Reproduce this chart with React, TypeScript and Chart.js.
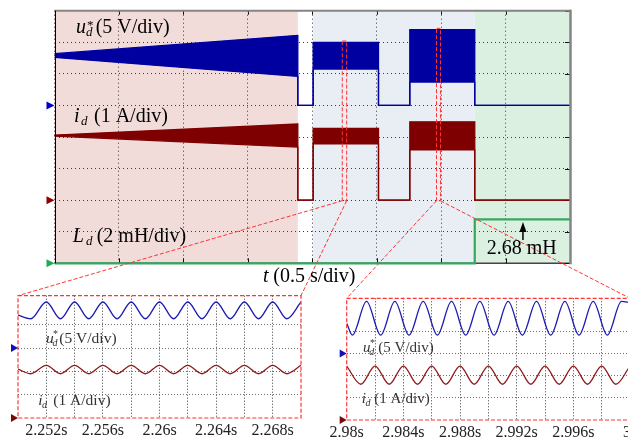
import React, { useEffect, useRef } from 'react';
import { Chart, registerables } from 'chart.js';

Chart.register(...registerables);

const FONT = '"Liberation Serif", "Times New Roman", Times, serif';

// ---------------- Main scope (0.5 s/div) ----------------
const mainTimes = [0, 1.888, 1.888, 2.007, 2.007, 2.514, 2.514, 2.757, 2.757, 3.261, 3.261, 4.0]; // s
const udUpper = [8.2, 11.1, 0, 0, 10.0, 10.0, 0, 0, 12.0, 12.0, 0, 0]; // V
const udLower = [7.6, 4.6, 0, 0, 5.75, 5.75, 0, 0, 3.7, 3.7, 0, 0]; // V
const idUpper = [2.06, 2.41, 0, 0, 2.27, 2.27, 0, 0, 2.48, 2.48, 0, 0]; // A
const idLower = [2.03, 1.68, 0, 0, 1.78, 1.78, 0, 0, 1.59, 1.59, 0, 0]; // A
const ldTimes = [0, 3.261, 3.261, 4.0]; // s
const ldValues = [0, 0, 2.78, 2.78]; // mH

const regionStart = [0, 2.007, 3.261];
const regionEnd = [1.888, 3.261, 4.0];
const regionColors = ['#f1dcda', '#e9edf4', '#dcf0e2'];

// zoom windows marked on the main scope (s, div)
const zoomWinStart = [2.233, 2.964];
const zoomWinEnd = [2.267, 2.995];
const zoomWinTop = [7.04, 7.44];
const zoomWinBottom = [1.98, 1.98];

// ---------------- Left inset (2.25 s - 2.27 s) ----------------
const leftTimes = [2.25, 2.2509, 2.252, 2.253, 2.254, 2.255, 2.256, 2.257, 2.258, 2.259, 2.26, 2.261, 2.262, 2.263, 2.264, 2.265, 2.266, 2.267, 2.268, 2.269, 2.27];
const leftUd = [7.1, 6.3, 9.9, 6.3, 9.9, 6.3, 9.9, 6.3, 9.9, 6.3, 9.9, 6.3, 9.9, 6.3, 9.9, 6.3, 9.9, 6.3, 9.9, 6.3, 9.9]; // V
const leftId = [2.1, 1.9, 2.26, 1.9, 2.26, 1.9, 2.26, 1.9, 2.26, 1.9, 2.26, 1.9, 2.26, 1.9, 2.26, 1.9, 2.26, 1.9, 2.26, 1.9, 2.26]; // A
const leftTickValues = [2.252, 2.256, 2.26, 2.264, 2.268];
const leftTickLabels = ['2.252s', '2.256s', '2.26s', '2.264s', '2.268s'];

// ---------------- Right inset (2.98 s - 3.0 s) ----------------
const rightUdTimes = [2.98, 2.9804, 2.9814, 2.9824, 2.9834, 2.9844, 2.9854, 2.9864, 2.9874, 2.9884, 2.9894, 2.9904, 2.9914, 2.9924, 2.9934, 2.9944, 2.9954, 2.9964, 2.9974, 2.9984, 2.9994, 3.0];
const rightUd = [6.8, 4.1, 11.7, 4.1, 11.7, 4.1, 11.7, 4.1, 11.7, 4.1, 11.7, 4.1, 11.7, 4.1, 11.7, 4.1, 11.7, 4.1, 11.7, 4.1, 11.7, 11.4]; // V
const rightIdTimes = [2.98, 2.981, 2.982, 2.983, 2.984, 2.985, 2.986, 2.987, 2.988, 2.989, 2.99, 2.991, 2.992, 2.993, 2.994, 2.995, 2.996, 2.997, 2.998, 2.999, 3.0];
const rightId = [2.43, 1.61, 2.43, 1.61, 2.43, 1.61, 2.43, 1.61, 2.43, 1.61, 2.43, 1.61, 2.43, 1.61, 2.43, 1.61, 2.43, 1.61, 2.43, 1.61, 2.43]; // A
const rightTickValues = [2.98, 2.984, 2.988, 2.992, 2.996, 3.0];
const rightTickLabels = ['2.98s', '2.984s', '2.988s', '2.992s', '2.996s', '3s'];

// ---------------- layout / style ----------------
const MAIN = { l: 54.5, t: 10.7, r: 570, b: 263.3, w: 628, h: 441 };
const LEFT_INSET = { l: 18, t: 295.7, r: 301, b: 418, w: 628, h: 441 };
const RIGHT_INSET = { l: 346.7, t: 298.3, r: 630, b: 420, w: 660, h: 441 };
const INSET_LABEL_BAND = 20;

const BLUE = '#0000a0';
const RED = '#7f0000';
const GREEN = '#35a862';
const INSET_BLUE = '#1c1cb0';
const INSET_RED = '#8e1c1c';
const DASH_RED = '#ff3434';

type Part = { t: string; x: number; size: number; italic?: boolean; dy?: number };

function drawParts(ctx: CanvasRenderingContext2D, baseline: number, parts: Part[], color: string) {
  ctx.save();
  ctx.fillStyle = color;
  ctx.textAlign = 'left';
  ctx.textBaseline = 'alphabetic';
  for (const p of parts) {
    ctx.font = `${p.italic ? 'italic ' : ''}${p.size}px ${FONT}`;
    ctx.fillText(p.t, p.x, baseline + (p.dy || 0));
  }
  ctx.restore();
}

function tri(ctx: CanvasRenderingContext2D, tipX: number, cy: number, w: number, h: number, color: string) {
  ctx.save();
  ctx.fillStyle = color;
  ctx.beginPath();
  ctx.moveTo(tipX, cy);
  ctx.lineTo(tipX - w, cy - h);
  ctx.lineTo(tipX - w, cy + h);
  ctx.closePath();
  ctx.fill();
  ctx.restore();
}

const pts = (ts: number[], vs: number[], f: (v: number) => number) => ts.map((t, i) => ({ x: t, y: f(vs[i]) }));

const udDiv = (v: number) => 5 + v / 5;
const idDiv = (a: number) => 2 + a;
const ldDiv = (l: number) => l / 2;
const insUdDiv = (v: number) => 3 + v / 5;
const insIdDiv = (a: number) => a;

const mainPlugin = {
  id: 'mainDecor',
  beforeDraw(chart: any) {
    const { ctx, chartArea: ca, scales } = chart;
    const x = scales.x;
    ctx.save();
    for (let i = 0; i < regionStart.length; i++) {
      const x0 = x.getPixelForValue(regionStart[i]);
      const x1 = x.getPixelForValue(regionEnd[i]);
      ctx.fillStyle = regionColors[i];
      ctx.fillRect(x0, ca.top, x1 - x0, ca.bottom - ca.top);
    }
    ctx.restore();
  },
  beforeDatasetsDraw(chart: any) {
    const { ctx, chartArea: ca, scales } = chart;
    const x = scales.x, y = scales.y;
    ctx.save();
    ctx.strokeStyle = '#444';
    ctx.lineWidth = 1.5;
    ctx.beginPath();
    ctx.moveTo(ca.left, ca.bottom);
    ctx.lineTo(ca.right, ca.bottom);
    ctx.stroke();
    ctx.strokeStyle = '#111';
    ctx.lineWidth = 1;
    ctx.beginPath();
    for (const t of x.ticks) {
      const px = Math.round(x.getPixelForValue(t.value)) + 0.5;
      ctx.moveTo(px, ca.top);
      ctx.lineTo(px, ca.top + 4);
      ctx.moveTo(px, ca.bottom);
      ctx.lineTo(px, ca.bottom - 5);
    }
    for (const t of y.ticks) {
      const py = Math.round(y.getPixelForValue(t.value)) + 0.5;
      ctx.moveTo(ca.right, py);
      ctx.lineTo(ca.right - 5, py);
    }
    ctx.stroke();
    ctx.restore();
  },
  afterDraw(chart: any) {
    const { ctx, chartArea: ca, scales } = chart;
    const x = scales.x, y = scales.y;
    ctx.save();
    ctx.strokeStyle = '#858585';
    ctx.lineWidth = 2;
    ctx.beginPath();
    ctx.moveTo(ca.left, ca.top);
    ctx.lineTo(ca.right + 1, ca.top);
    ctx.stroke();
    ctx.lineWidth = 2.5;
    ctx.beginPath();
    ctx.moveTo(ca.right + 0.5, ca.top - 1);
    ctx.lineTo(ca.right + 0.5, ca.bottom + 1);
    ctx.stroke();
    ctx.strokeStyle = '#000';
    ctx.lineWidth = 1;
    ctx.beginPath();
    ctx.moveTo(Math.round(ca.left) + 0.5, ca.top);
    ctx.lineTo(Math.round(ca.left) + 0.5, ca.bottom);
    ctx.stroke();

    tri(ctx, ca.left, y.getPixelForValue(udDiv(0)), 8, 4, '#0000c8');
    tri(ctx, ca.left, y.getPixelForValue(idDiv(0)), 8, 4, '#8b0000');
    tri(ctx, ca.left, y.getPixelForValue(ldDiv(0)), 8, 4, '#22aa55');

    const ax = x.getPixelForValue(3.635);
    const aBase = y.getPixelForValue(ldDiv(1.47));
    const aTip = y.getPixelForValue(ldDiv(2.62));
    ctx.strokeStyle = '#000';
    ctx.fillStyle = '#000';
    ctx.lineWidth = 1.5;
    ctx.beginPath();
    ctx.moveTo(ax, aBase);
    ctx.lineTo(ax, aTip + 6);
    ctx.stroke();
    ctx.beginPath();
    ctx.moveTo(ax, aTip);
    ctx.lineTo(ax - 3.5, aTip + 10);
    ctx.lineTo(ax + 3.5, aTip + 10);
    ctx.closePath();
    ctx.fill();

    ctx.strokeStyle = DASH_RED;
    ctx.lineWidth = 1;
    ctx.setLineDash([4, 2]);
    const corners = [
      [[LEFT_INSET.l, LEFT_INSET.t], [LEFT_INSET.r, LEFT_INSET.t]],
      [[RIGHT_INSET.l, RIGHT_INSET.t], [RIGHT_INSET.r, RIGHT_INSET.t]],
    ];
    for (let i = 0; i < zoomWinStart.length; i++) {
      const x0 = x.getPixelForValue(zoomWinStart[i]);
      const x1 = x.getPixelForValue(zoomWinEnd[i]);
      const y0 = y.getPixelForValue(zoomWinTop[i]);
      const y1 = y.getPixelForValue(zoomWinBottom[i]);
      ctx.strokeRect(x0, y0, x1 - x0, y1 - y0);
      ctx.beginPath();
      ctx.moveTo(x0, y1);
      ctx.lineTo(corners[i][0][0], corners[i][0][1]);
      ctx.moveTo(x1, y1);
      ctx.lineTo(corners[i][1][0], corners[i][1][1]);
      ctx.stroke();
    }
    ctx.setLineDash([]);
    ctx.restore();

    drawParts(ctx, 33.3, [
      { t: 'u', x: 76, size: 20, italic: true },
      { t: 'd', x: 86, size: 13, italic: true, dy: 3 },
      { t: '*', x: 87, size: 13, dy: -4 },
      { t: '(5 V/div)', x: 95.7, size: 20 },
    ], '#000');
    drawParts(ctx, 121.7, [
      { t: 'i', x: 74, size: 20, italic: true },
      { t: 'd', x: 81, size: 13, italic: true, dy: 3 },
      { t: '(1 A/div)', x: 94, size: 20 },
    ], '#000');
    drawParts(ctx, 241.7, [
      { t: 'L', x: 72.7, size: 20, italic: true },
      { t: 'd', x: 86, size: 13, italic: true, dy: 3 },
      { t: '(2 mH/div)', x: 96.7, size: 20 },
    ], '#000');
    drawParts(ctx, 282, [
      { t: 't', x: 263, size: 20, italic: true },
      { t: '(0.5 s/div)', x: 273.3, size: 20 },
    ], '#000');
    drawParts(ctx, 254, [{ t: '2.68 mH', x: 486.7, size: 20 }], '#000');
  },
};

function mainConfig(): any {
  const common = { pointRadius: 0, tension: 0, clip: 4 };
  return {
    type: 'line',
    data: {
      datasets: [
        { ...common, data: pts(mainTimes, udUpper, udDiv), borderColor: BLUE, borderWidth: 1.3, fill: false },
        { ...common, data: pts(mainTimes, udLower, udDiv), borderColor: BLUE, borderWidth: 1.3, backgroundColor: BLUE, fill: '-1' },
        { ...common, data: pts(mainTimes, idUpper, idDiv), borderColor: RED, borderWidth: 1.3, fill: false },
        { ...common, data: pts(mainTimes, idLower, idDiv), borderColor: RED, borderWidth: 1.3, backgroundColor: RED, fill: '-1' },
        { ...common, data: pts(ldTimes, ldValues, ldDiv), borderColor: GREEN, borderWidth: 2.2, fill: false, clip: false },
      ],
    },
    options: {
      responsive: false,
      animation: false,
      devicePixelRatio: 1,
      events: [],
      layout: { padding: { left: MAIN.l, top: MAIN.t, right: MAIN.w - MAIN.r, bottom: MAIN.h - MAIN.b } },
      plugins: { legend: { display: false }, tooltip: { enabled: false } },
      scales: {
        x: {
          type: 'linear', min: 0, max: 4,
          ticks: { display: false, stepSize: 0.5 },
          grid: { color: '#3a3a3a', lineWidth: 1, drawTicks: false },
          border: { display: false, dash: [1, 3] },
          afterFit: (s: any) => { s.height = 0; },
        },
        y: {
          type: 'linear', min: 0, max: 8,
          ticks: { display: false, stepSize: 1 },
          grid: { color: '#3a3a3a', lineWidth: 1, drawTicks: false },
          border: { display: false, dash: [1, 3] },
          afterFit: (s: any) => { s.width = 0; },
        },
      },
    },
    plugins: [mainPlugin],
  };
}

type InsetSpec = {
  area: typeof LEFT_INSET;
  xMin: number; xMax: number; yMax: number;
  udT: number[]; udV: number[]; idT: number[]; idV: number[];
  tickValues: number[]; tickLabels: string[];
  labelU: { baseline: number; parts: Part[] };
  labelI: { baseline: number; parts: Part[] };
};

function insetConfig(s: InsetSpec): any {
  const plugin = {
    id: 'insetDecor',
    afterDraw(chart: any) {
      const { ctx, chartArea: ca, scales } = chart;
      const y = scales.y;
      ctx.save();
      ctx.strokeStyle = DASH_RED;
      ctx.lineWidth = 1.2;
      ctx.setLineDash([4, 2]);
      ctx.strokeRect(ca.left, ca.top, ca.right - ca.left, ca.bottom - ca.top);
      ctx.setLineDash([]);
      ctx.restore();
      tri(ctx, ca.left, y.getPixelForValue(insUdDiv(0)), 7, 4, '#1010c0');
      tri(ctx, ca.left, y.getPixelForValue(insIdDiv(0)), 7, 4, '#7a0a0a');
      drawParts(ctx, s.labelU.baseline, s.labelU.parts, '#333');
      drawParts(ctx, s.labelI.baseline, s.labelI.parts, '#333');
    },
  };
  const common = { pointRadius: 0, cubicInterpolationMode: 'monotone', fill: false, borderWidth: 1.3 };
  return {
    type: 'line',
    data: {
      datasets: [
        { ...common, data: pts(s.udT, s.udV, insUdDiv), borderColor: INSET_BLUE },
        { ...common, data: pts(s.idT, s.idV, insIdDiv), borderColor: INSET_RED },
      ],
    },
    options: {
      responsive: false,
      animation: false,
      devicePixelRatio: 1,
      events: [],
      layout: { padding: { left: s.area.l, top: s.area.t, right: s.area.w - s.area.r, bottom: s.area.h - s.area.b - INSET_LABEL_BAND } },
      plugins: { legend: { display: false }, tooltip: { enabled: false } },
      scales: {
        x: {
          type: 'linear', min: s.xMin, max: s.xMax,
          ticks: {
            stepSize: 0.002, autoSkip: false, maxRotation: 0, minRotation: 0, padding: 3,
            color: '#222', font: { family: FONT, size: 16 },
            callback: (v: number) => {
              const i = s.tickValues.findIndex((tv) => Math.abs(tv - v) < 1e-6);
              return i >= 0 ? s.tickLabels[i] : '';
            },
          },
          grid: {
            drawTicks: false, lineWidth: 1,
            color: (c: any) => (c.tick && (Math.abs(c.tick.value - s.xMin) < 1e-6 || Math.abs(c.tick.value - s.xMax) < 1e-6) ? 'rgba(0,0,0,0)' : '#3c3c3c'),
          },
          border: { display: false, dash: [1, 2] },
          afterFit: (sc: any) => { sc.height = INSET_LABEL_BAND; },
        },
        y: {
          type: 'linear', min: 0, max: s.yMax,
          ticks: { display: false, stepSize: 1 },
          grid: {
            drawTicks: false, lineWidth: 1,
            color: (c: any) => (c.tick && c.tick.value > 0.01 && Math.abs(c.tick.value - Math.round(c.tick.value)) < 1e-6 ? '#707070' : 'rgba(0,0,0,0)'),
          },
          border: { display: false, dash: [1, 2] },
          afterFit: (sc: any) => { sc.width = 0; },
        },
      },
    },
    plugins: [plugin],
  };
}

export default function App() {
  const mainRef = useRef<HTMLCanvasElement>(null);
  const leftRef = useRef<HTMLCanvasElement>(null);
  const rightRef = useRef<HTMLCanvasElement>(null);

  useEffect(() => {
    const charts: Chart[] = [];
    charts.push(new Chart(mainRef.current as HTMLCanvasElement, mainConfig()));
    charts.push(new Chart(leftRef.current as HTMLCanvasElement, insetConfig({
      area: LEFT_INSET, xMin: 2.25, xMax: 2.27, yMax: 5.25,
      udT: leftTimes, udV: leftUd, idT: leftTimes, idV: leftId,
      tickValues: leftTickValues, tickLabels: leftTickLabels,
      labelU: { baseline: 343.3, parts: [
        { t: 'u', x: 46, size: 15.5, italic: true },
        { t: 'd', x: 52.5, size: 10, italic: true, dy: 3 },
        { t: '*', x: 53, size: 10, dy: -6 },
        { t: '(5 V/div)', x: 59.3, size: 15.5 },
      ] },
      labelI: { baseline: 404.5, parts: [
        { t: 'i', x: 38.3, size: 15.5, italic: true },
        { t: 'd', x: 42, size: 10, italic: true, dy: 3 },
        { t: '(1 A/div)', x: 53.3, size: 15.5 },
      ] },
    })));
    charts.push(new Chart(rightRef.current as HTMLCanvasElement, insetConfig({
      area: RIGHT_INSET, xMin: 2.98, xMax: 3.0, yMax: 5.48,
      udT: rightUdTimes, udV: rightUd, idT: rightIdTimes, idV: rightId,
      tickValues: rightTickValues, tickLabels: rightTickLabels,
      labelU: { baseline: 351.7, parts: [
        { t: 'u', x: 363, size: 15, italic: true },
        { t: 'd', x: 369.3, size: 10, italic: true, dy: 3 },
        { t: '*', x: 370, size: 10, dy: -6 },
        { t: '(5 V/div)', x: 378.3, size: 15 },
      ] },
      labelI: { baseline: 402.7, parts: [
        { t: 'i', x: 361.7, size: 15, italic: true },
        { t: 'd', x: 365.5, size: 10, italic: true, dy: 3 },
        { t: '(1 A/div)', x: 374.3, size: 15 },
      ] },
    })));
    return () => { charts.forEach((c) => c.destroy()); };
  }, []);

  return (
    <div style={{ position: 'fixed', left: 0, top: 0, width: 628, height: 441, overflow: 'hidden', background: '#fff' }}>
      <canvas ref={mainRef} width={MAIN.w} height={MAIN.h} style={{ position: 'absolute', left: 0, top: 0 }} />
      <canvas ref={leftRef} width={LEFT_INSET.w} height={LEFT_INSET.h} style={{ position: 'absolute', left: 0, top: 0 }} />
      <canvas ref={rightRef} width={RIGHT_INSET.w} height={RIGHT_INSET.h} style={{ position: 'absolute', left: 0, top: 0 }} />
    </div>
  );
}
